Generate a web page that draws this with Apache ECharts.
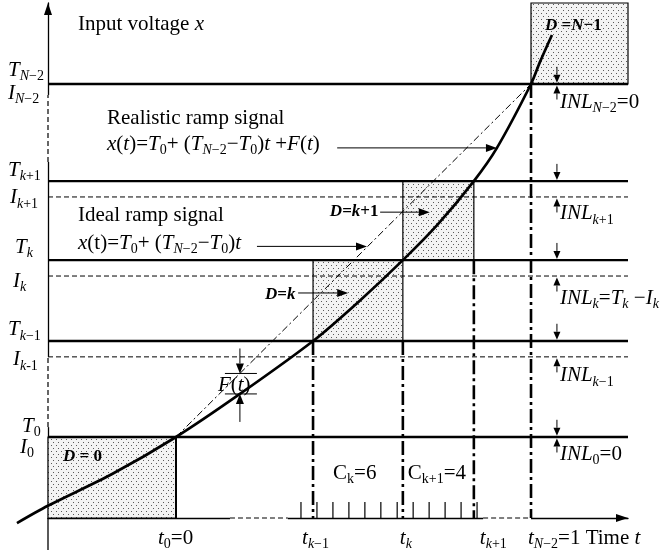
<!DOCTYPE html>
<html><head><meta charset="utf-8">
<script src="https://cdn.jsdelivr.net/npm/echarts@6/dist/echarts.min.js"></script>
<style>html,body{margin:0;padding:0;background:#fff}#c{width:664px;height:555px}</style>
</head><body><div id="c"></div>
<script>
// ---------------- data (time normalised: t0 = 0, t_{N-2} = 1; voltage normalised: T0 = 0, T_{N-2} = 1)
const levelNames = ['0', 'k−1', 'k', 'k+1', 'N−2'];
const tLevels  = [0, 0.386, 0.639, 0.839, 1.0];      // t_0, t_{k-1}, t_k, t_{k+1}, t_{N-2}
const T_levels = [0, 0.272, 0.501, 0.725, 1.0];      // real transition levels T
const I_levels = [0, 0.227, 0.456, 0.680, 1.0];      // ideal transition levels I
const curveT = [-0.448, -0.361, -0.18, 0, 0.18, 0.386, 0.513, 0.639, 0.738, 0.839, 0.904, 1.0, 1.025, 1.059];
const curveX = [-0.244, -0.195, -0.105, 0, 0.122, 0.272, 0.382, 0.501, 0.603, 0.725, 0.819, 1.0, 1.062, 1.139];
const clockTicks = [0.352, 0.397, 0.442, 0.487, 0.532, 0.577, 0.623, 0.668, 0.713, 0.758, 0.803, 0.848];
const codeCounts = [6, 4];                           // C_k, C_{k+1}
const xRange = [-0.3606, 1.2732];
const yRange = [-0.2295, 1.2295];
const xAxisBreaks = [[0.152, 0.315], [0.865, 1.0]];
const yAxisBreaks = [[0.779, 0.969], [0.028, 0.227]];
const yAxisTail = -0.32;
const fMarkIndex = 4;                                // curve point where F(t) is marked
const inlT = 1.073;                                  // time position of INL arrows
// pointer arrows [t1, v1, t2, v2]
const pointerArrows = [
  [0.454, 0.819, 0.904, 0.819],   // realistic ramp
  [0.228, 0.540, 0.538, 0.540],   // ideal ramp
  [0.344, 0.408, 0.485, 0.408],   // D=k
  [0.575, 0.637, 0.715, 0.637]    // D=k+1
];

// ---------------- helpers
const X0 = xRange[0], X1 = xRange[1], Y0 = yRange[0], Y1 = yRange[1];
const FONT = '"Liberation Serif","Times New Roman",serif';
const rich = {
  i:  {fontFamily: FONT, fontStyle: 'italic', fontSize: 21, lineHeight: 24, fill: '#000'},
  n:  {fontFamily: FONT, fontSize: 21, lineHeight: 24, fill: '#000'},
  si: {fontFamily: FONT, fontStyle: 'italic', fontSize: 14, lineHeight: 15, padding: [12, 0, 0, 0], fill: '#000'},
  sn: {fontFamily: FONT, fontSize: 14, lineHeight: 15, padding: [12, 0, 0, 0], fill: '#000'},
  b:  {fontFamily: FONT, fontStyle: 'italic', fontWeight: 'bold', fontSize: 17, lineHeight: 20, fill: '#000'},
  bn: {fontFamily: FONT, fontWeight: 'bold', fontSize: 17, lineHeight: 20, fill: '#000'}
};
const I = s => '{i|' + s + '}', N = s => '{n|' + s + '}', SI = s => '{si|' + s + '}', SN = s => '{sn|' + s + '}';
const B = s => '{b|' + s + '}', BN = s => '{bn|' + s + '}';
const sub = name => {
  const m = name.match(/^([A-Za-z]?)(.*)$/);
  return (m[1] ? SI(m[1]) : '') + (m[2] ? SN(m[2]) : '');
};

function lineEl(a, b, style) {
  return {type: 'line', silent: true, shape: {x1: a[0], y1: a[1], x2: b[0], y2: b[1]},
    style: Object.assign({stroke: '#000', fill: null, lineWidth: 1}, style)};
}
function arrowEls(a, b, head, width, lw) {
  const dx = b[0] - a[0], dy = b[1] - a[1], L = Math.hypot(dx, dy);
  const ux = dx / L, uy = dy / L, nx = -uy, ny = ux;
  const bx = b[0] - ux * head, by = b[1] - uy * head;
  return [lineEl(a, [bx, by], {lineWidth: lw}),
    {type: 'polygon', silent: true, shape: {points: [[b[0], b[1]], [bx + nx * width / 2, by + ny * width / 2], [bx - nx * width / 2, by - ny * width / 2]]},
     style: {fill: '#000', stroke: null}}];
}
function segSeries(segs, style, z) {
  return {type: 'custom', coordinateSystem: 'cartesian2d', silent: true, z: z, clip: false,
    data: segs, encode: {x: [0, 2], y: [1, 3]},
    renderItem: (p, api) => lineEl(api.coord([api.value(0), api.value(1)]), api.coord([api.value(2), api.value(3)]), style)};
}
function dotPattern() {
  const c = document.createElement('canvas'); c.width = 5; c.height = 6;
  const g = c.getContext('2d');
  g.fillStyle = '#f3f3f3'; g.fillRect(0, 0, 5, 6);
  g.fillStyle = '#5a5a5a'; g.fillRect(1, 1, 1, 1); g.fillRect(3, 4, 1, 1);
  return c;
}
const pattern = {image: dotPattern(), repeat: 'repeat'};

// ---------------- derived geometry from the data
const boxes = [
  [X0, Y0, tLevels[0], T_levels[0]],
  [tLevels[1], T_levels[1], tLevels[2], T_levels[2]],
  [tLevels[2], T_levels[2], tLevels[3], T_levels[3]],
  [tLevels[4], T_levels[4], X1, Y1]
];
const tSegs = T_levels.map(v => [X0, v, X1, v]);
const iSegs = I_levels.slice(1, 4).map(v => [X0, v, X1, v]);
const vertSegs = [
  [tLevels[1], T_levels[1], tLevels[1], Y0],
  [tLevels[2], T_levels[1], tLevels[2], Y0],
  [tLevels[3], T_levels[2], tLevels[3], Y0],
  [tLevels[4], T_levels[4], tLevels[4], Y0]
];
const breakSegs = xAxisBreaks.map(b => [b[0], Y0, b[1], Y0]).concat(yAxisBreaks.map(b => [X0, b[0], X0, b[1]]));
const inlArrows = [];
for (let k = 0; k < T_levels.length; k++) {
  inlArrows.push([inlT, T_levels[k], -1]);
  inlArrows.push([inlT, I_levels[k], 1]);
}
const idealAt = t => T_levels[0] + (T_levels[4] - T_levels[0]) * t;

// anchored labels
const labels = [];
const lab = (t, v, dx, dy, text, align) => labels.push({t, v, dx, dy, text, align: align || 'left'});
const levelDx = {T: [-26, -40, -33, -40, -40], I: [-28, -35, -35, -38, -40]};
const levelDy = {T: [-11, -11, -13, -11, -14], I: [10, 3, 5, 1, 9]};
for (let k = 0; k < 5; k++) {
  lab(X0, T_levels[k], levelDx.T[k], levelDy.T[k], I('T') + sub(levelNames[k]));
  lab(X0, I_levels[k], levelDx.I[k], levelDy.I[k], I('I') + sub(k === 1 ? 'k-1' : levelNames[k]));
}
lab(tLevels[0], Y0, -18, 20, I('t') + SN('0') + N('=0'));
lab(tLevels[1], Y0, -11, 20, I('t') + sub(levelNames[1]));
lab(tLevels[2], Y0, -3, 20, I('t') + sub(levelNames[2]));
lab(tLevels[3], Y0, 6, 20, I('t') + sub(levelNames[3]));
lab(tLevels[4], Y0, -3, 20, I('t') + sub(levelNames[4]) + N('=1 Time ') + I('t'));
lab(inlT, T_levels[4], 3, 18, I('INL') + sub(levelNames[4]) + N('=0'));
lab(inlT, I_levels[3], 3, 17, I('INL') + sub(levelNames[3]));
lab(inlT, I_levels[2], 3, 22, I('INL') + sub(levelNames[2]) + N('=') + I('T') + SI('k') + N(' −') + I('I') + SI('k'));
lab(inlT, I_levels[1], 3, 19, I('INL') + sub(levelNames[1]));
lab(inlT, T_levels[0], 3, 17, I('INL') + SN('0') + N('=0'));
lab(tLevels[1], Y0, 20, -45, N('C') + SN('k') + N('=' + codeCounts[0]));
lab(tLevels[2], Y0, 5, -45, N('C') + SN('k+1') + N('=' + codeCounts[1]));
lab(X0, T_levels[0], 15, 20, B('D') + BN(' = 0'));
lab(tLevels[1], T_levels[2], -48, 34, B('D') + BN('=') + B('k'));
lab(tLevels[2], T_levels[3], -73, 31, B('D') + BN('=') + B('k') + BN('+1'));
lab(tLevels[4], Y1, 14, 23, B('D') + BN(' =') + B('N') + BN('−1'));
lab(curveT[fMarkIndex], curveX[fMarkIndex], -22, -8, I('F') + N('(') + I('t') + N(')'));

const txt = (x, y, text) => ({type: 'text', x: x, y: y, silent: true, z: 50,
  style: {text: text, rich: rich, align: 'left', verticalAlign: 'middle', fill: '#000', fontFamily: FONT, fontSize: 21}});

const chart = echarts.init(document.getElementById('c'));
chart.setOption({
  animation: false,
  backgroundColor: '#fff',
  grid: {left: 48, right: 36, top: 3, bottom: 37, containLabel: false},
  xAxis: {type: 'value', min: X0, max: X1, splitLine: {show: false}, axisTick: {show: false}, axisLabel: {show: false},
    axisLine: {onZero: false, symbol: ['none', 'triangle'], symbolSize: [8, 12], symbolOffset: [0, -6], lineStyle: {color: '#000', width: 1.3}}},
  yAxis: {type: 'value', min: Y0, max: Y1, splitLine: {show: false}, axisTick: {show: false}, axisLabel: {show: false},
    axisLine: {onZero: false, symbol: ['none', 'triangle'], symbolSize: [8, 12], symbolOffset: [0, -6], lineStyle: {color: '#000', width: 1.3}}},
  graphic: [
    txt(78, 24, N('Input voltage ') + I('x')),
    txt(107, 118, N('Realistic ramp signal')),
    txt(107, 144, I('x') + N('(') + I('t') + N(')=') + I('T') + SN('0') + N('+ (') + I('T') + sub('N−2') + N('−') + I('T') + SN('0') + N(')') + I('t') + N(' +') + I('F') + N('(') + I('t') + N(')')),
    txt(78, 215, N('Ideal ramp signal')),
    txt(78, 243, I('x') + N('(t)=') + I('T') + SN('0') + N('+ (') + I('T') + sub('N−2') + N('−') + I('T') + SN('0') + N(')') + I('t'))
  ],
  series: [
    // boxes with dotted fill
    {type: 'custom', coordinateSystem: 'cartesian2d', silent: true, z: 1, clip: false, data: boxes, encode: {x: [0, 2], y: [1, 3]},
      renderItem: (p, api) => {
        const a = api.coord([api.value(0), api.value(1)]), b = api.coord([api.value(2), api.value(3)]);
        return {type: 'rect', silent: true, shape: {x: Math.min(a[0], b[0]), y: Math.min(a[1], b[1]), width: Math.abs(b[0] - a[0]), height: Math.abs(b[1] - a[1])},
          style: {fill: pattern, stroke: '#000', lineWidth: 1.2}};
      }},
    // axis breaks: blank then dashed
    segSeries(breakSegs, {stroke: '#fff', lineWidth: 4}, 2),
    segSeries(breakSegs, {lineWidth: 1.2, lineDash: [5, 3]}, 3),
    segSeries([[X0, Y0, X0, yAxisTail]], {lineWidth: 1.3}, 3),
    // real transition levels
    segSeries(tSegs, {lineWidth: 2.3}, 5),
    // ideal transition levels
    segSeries(iSegs, {lineWidth: 1, lineDash: [5, 3]}, 5),
    // sampling instants
    segSeries(vertSegs, {lineWidth: 2.6, lineDash: [14, 4, 3, 4]}, 5),
    segSeries([[tLevels[0], T_levels[0], tLevels[0], Y0]], {lineWidth: 2}, 5),
    // clock ticks
    {type: 'custom', coordinateSystem: 'cartesian2d', silent: true, z: 5, clip: false, data: clockTicks.map(t => [t]), encode: {x: 0},
      renderItem: (p, api) => { const a = api.coord([api.value(0), Y0]); return lineEl(a, [a[0], a[1] - 16], {lineWidth: 1.2}); }},
    // ideal ramp
    {type: 'line', silent: true, z: 6, clip: false, symbol: 'none', data: [[tLevels[0], idealAt(tLevels[0])], [tLevels[4], idealAt(tLevels[4])]],
      lineStyle: {color: '#000', width: 1, type: [7, 3, 2, 3]}},
    // realistic ramp (smooth polyline through all curve points, not clipped by the grid)
    {type: 'custom', coordinateSystem: 'cartesian2d', silent: true, z: 7, clip: false,
      data: curveT.map((t, i) => [t, curveX[i]]), encode: {x: 0, y: 1},
      renderItem: (p, api) => {
        if (p.dataIndex !== 0) return null;
        const pts = curveT.map((t, i) => api.coord([t, curveX[i]]));
        return {type: 'polyline', silent: true, shape: {points: pts, smooth: 0.3},
          style: {stroke: '#000', fill: null, lineWidth: 2.7}};
      }},
    // pointer arrows
    {type: 'custom', coordinateSystem: 'cartesian2d', silent: true, z: 8, clip: false, data: pointerArrows, encode: {x: [0, 2], y: [1, 3]},
      renderItem: (p, api) => ({type: 'group', children: arrowEls(api.coord([api.value(0), api.value(1)]), api.coord([api.value(2), api.value(3)]), 11, 8, 1)})},
    // INL arrows
    {type: 'custom', coordinateSystem: 'cartesian2d', silent: true, z: 8, clip: false, data: inlArrows, encode: {x: 0, y: 1},
      renderItem: (p, api) => {
        const c = api.coord([api.value(0), api.value(1)]), dir = api.value(2);
        const tip = [c[0], c[1] + (dir > 0 ? 1.5 : -1.2)];
        const len = dir > 0 ? 14 : 16;
        return {type: 'group', children: arrowEls([tip[0], tip[1] + dir * len], tip, 8, 7, 1)};
      }},
    // F(t) marker
    {type: 'custom', coordinateSystem: 'cartesian2d', silent: true, z: 8, clip: false,
      data: [[curveT[fMarkIndex], idealAt(curveT[fMarkIndex]), curveX[fMarkIndex]]], encode: {x: 0, y: [1, 2]},
      renderItem: (p, api) => {
        const a = api.coord([api.value(0), api.value(1)]), b = api.coord([api.value(0), api.value(2)]);
        return {type: 'group', children: [
          lineEl([a[0] - 15, a[1]], [a[0] + 17, a[1]], {lineWidth: 1}),
          lineEl([b[0] - 15, b[1]], [b[0] + 17, b[1]], {lineWidth: 1})
        ].concat(arrowEls([a[0], a[1] - 25], a, 10, 8, 1)).concat(arrowEls([b[0], b[1] + 28], b, 10, 8, 1))};
      }},
    // labels anchored to data
    {type: 'custom', coordinateSystem: 'cartesian2d', silent: true, z: 20, clip: false, data: labels.map(l => [l.t, l.v]), encode: {x: 0, y: 1},
      renderItem: (p, api) => {
        const l = labels[p.dataIndex];
        const c = api.coord([api.value(0), api.value(1)]);
        return {type: 'text', silent: true, x: c[0] + l.dx, y: c[1] + l.dy,
          style: {text: l.text, rich: rich, align: l.align, verticalAlign: 'middle', fill: '#000', fontFamily: FONT, fontSize: 21}};
      }}
  ]
});
</script>
</body></html>
